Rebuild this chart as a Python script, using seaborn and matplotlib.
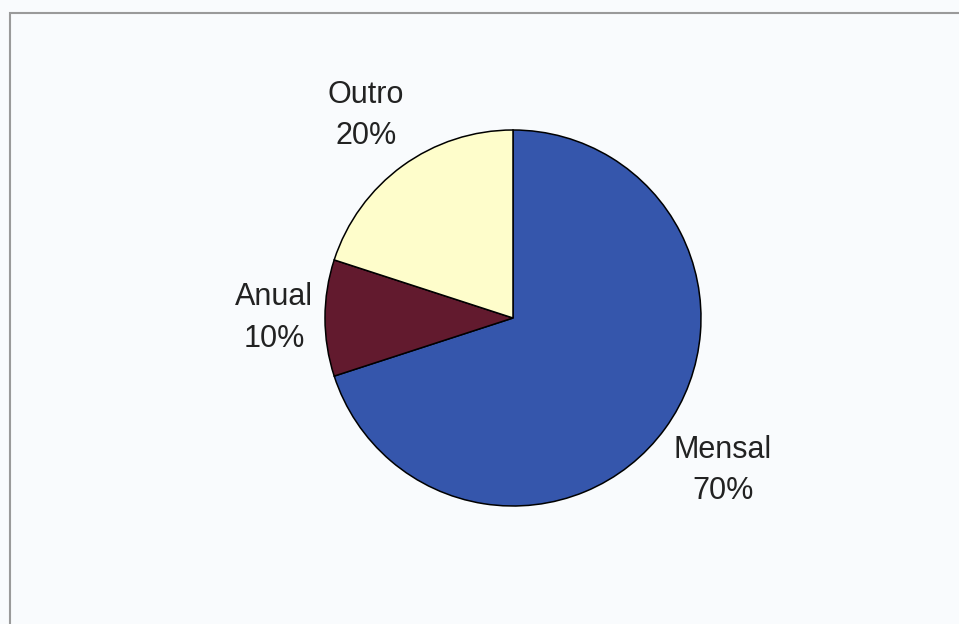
import numpy as np
import seaborn as sns
import matplotlib.pyplot as plt
from matplotlib.patches import Rectangle

sns.set_style("white")
plt.rcParams['font.family'] = ['Liberation Sans', 'DejaVu Sans']

# Dados do grafico
categorias = ["Mensal", "Anual", "Outro"]
percentuais = [70, 10, 20]
cores = ["#3556AC", "#621A2E", "#FEFDCB"]
dist_rotulos = [1.38, 1.27, 1.33]

fig = plt.figure(figsize=(9.59, 6.24), dpi=100)
fig.patch.set_facecolor("#F9FBFD")

# moldura do grafico
fig.patches.append(Rectangle((10 / 959, -0.05), 1.1, 1 - 13 / 624 + 0.05, transform=fig.transFigure,
                             fill=False, edgecolor="#9a9a9a", linewidth=1.5))

cx, cy, r = 513, 318, 188
ax = fig.add_axes([(cx - r) / 959, (624 - cy - r) / 624, 2 * r / 959, 2 * r / 624])
ax.set_facecolor("none")

wedges, _ = ax.pie(percentuais, colors=cores, startangle=90, counterclock=False,
                   wedgeprops=dict(edgecolor="black", linewidth=1.1))

for w, cat, pct, d in zip(wedges, categorias, percentuais, dist_rotulos):
    ang = np.deg2rad((w.theta1 + w.theta2) / 2)
    ax.text(d * np.cos(ang), d * np.sin(ang), f"{cat}\n{pct}%", ha="center", va="center",
            fontsize=22, color="#222222", linespacing=1.5)

ax.set_xlim(-1, 1)
ax.set_ylim(-1, 1)
ax.set_aspect("equal")
ax.axis("off")

fig.savefig("out.png", dpi=100, facecolor=fig.get_facecolor())
